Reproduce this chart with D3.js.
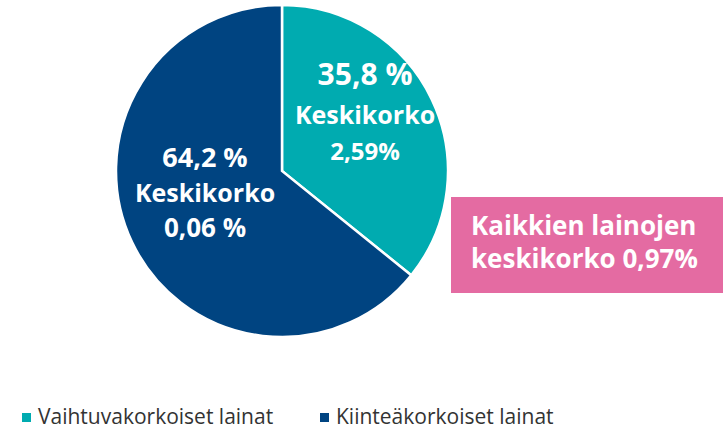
<!DOCTYPE html>
<html>
<head>
<meta charset="utf-8">
<script src="https://cdn.jsdelivr.net/npm/d3@7"></script>
<style>
  body { margin: 0; background: #fff; }
  svg { display: block; }
</style>
</head>
<body>
<svg id="chart" width="723" height="429"></svg>
<script>
// Loan split by interest type
const categories = ["Vaihtuvakorkoiset lainat", "Kiinteäkorkoiset lainat"];
const shares = [35.8, 64.2];
const shareLabels = ["35,8 %", "64,2 %"];
const rateLabels = ["2,59%", "0,06 %"];
const colors = ["#00abb0", "#004481"];
const totalLabel = ["Kaikkien lainojen", "keskikorko 0,97%"];

const svg = d3.select("#chart");
const cx = 282, cy = 171, r = 166;

const pie = d3.pie().sort(null).value(d => d.share);
const arc = d3.arc().innerRadius(0).outerRadius(r);

const data = categories.map((c, i) => ({ name: c, share: shares[i], shareLabel: shareLabels[i], rate: rateLabels[i], color: colors[i] }));
const arcs = pie(data);

const g = svg.append("g").attr("transform", `translate(${cx},${cy})`);

g.selectAll("path")
  .data(arcs)
  .enter()
  .append("path")
  .attr("d", arc)
  .attr("fill", d => d.data.color)
  .attr("stroke", "#fff")
  .attr("stroke-width", 2.5);

// labels inside the slices
const labelPos = [[83, -86], [-77, -4]];
const topSize = ["30px", "27px"];
const rateSize = ["24px", "26px"];
const gaps = [[39, 36], [35, 35]];
arcs.forEach((a, i) => {
  const t = g.append("text")
    .attr("text-anchor", "middle")
    .attr("fill", "#fff")
    .style("font-family", "'Open Sans', sans-serif")
    .style("font-weight", "700");
  t.append("tspan").attr("x", labelPos[i][0]).attr("y", labelPos[i][1])
    .style("font-size", topSize[i]).text(a.data.shareLabel);
  t.append("tspan").attr("x", labelPos[i][0]).attr("dy", gaps[i][0])
    .style("font-size", "25px").text("Keskikorko");
  t.append("tspan").attr("x", labelPos[i][0]).attr("dy", gaps[i][1])
    .style("font-size", rateSize[i]).text(a.data.rate);
});

// pink callout box
svg.append("rect")
  .attr("x", 451).attr("y", 197).attr("width", 272).attr("height", 96)
  .attr("fill", "#e46ba2");
const box = svg.append("text")
  .attr("fill", "#fff")
  .style("font-family", "'Open Sans', sans-serif")
  .style("font-weight", "700")
  .style("font-size", "26px");
totalLabel.forEach((s, i) => {
  box.append("tspan").attr("x", 471).attr("y", 235 + i * 33).text(s);
});

// legend
const legendX = [22, 320];
const legend = svg.selectAll(".leg")
  .data(data)
  .enter()
  .append("g")
  .attr("transform", (d, i) => `translate(${legendX[i]},0)`);
legend.append("rect")
  .attr("x", 0).attr("y", 413).attr("width", 9).attr("height", 9)
  .attr("fill", d => d.color);
legend.append("text")
  .attr("x", 16).attr("y", 424)
  .attr("fill", "#333")
  .style("font-family", "'Open Sans', sans-serif")
  .style("font-weight", "400")
  .style("font-size", "21px")
  .text(d => d.name);
</script>
</body>
</html>
